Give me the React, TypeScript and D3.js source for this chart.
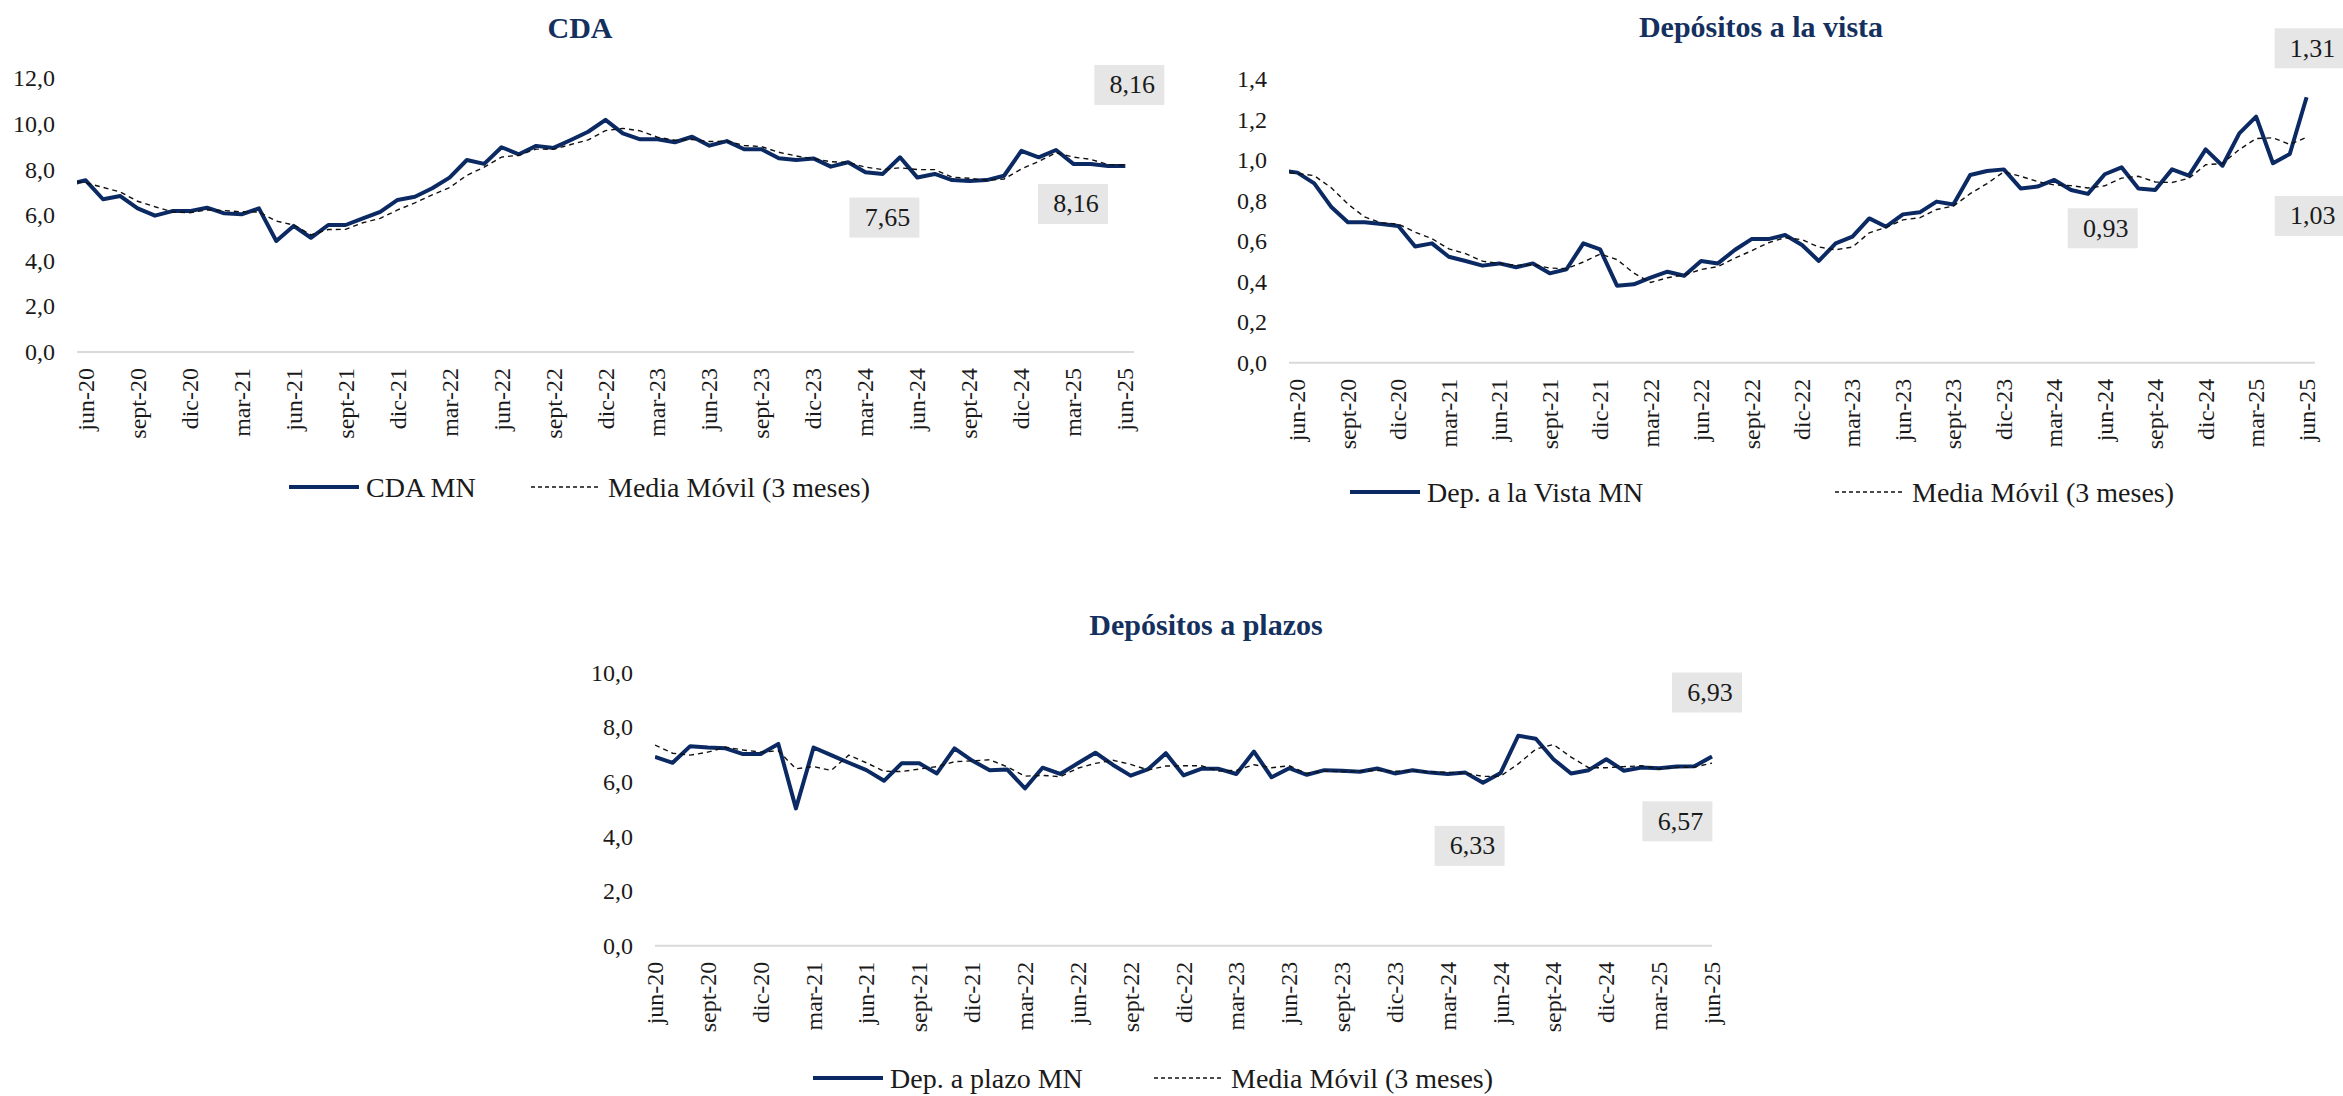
import React from 'react';
import * as d3 from 'd3';

// etiquetas del eje x (una cada 3 meses, jun-20 .. jun-25)
const tickLabels = [
  'jun-20', 'sept-20', 'dic-20', 'mar-21', 'jun-21', 'sept-21', 'dic-21',
  'mar-22', 'jun-22', 'sept-22', 'dic-22', 'mar-23', 'jun-23', 'sept-23',
  'dic-23', 'mar-24', 'jun-24', 'sept-24', 'dic-24', 'mar-25', 'jun-25',
];

// CDA MN (mensual, jun-20 .. jun-25)
const cdaMN = [
  7.53, 6.70, 6.84, 6.30, 5.98, 6.18, 6.18, 6.33, 6.08, 6.04,
  6.30, 4.87, 5.53, 5.01, 5.57, 5.57, 5.86, 6.15, 6.67, 6.81,
  7.18, 7.65, 8.42, 8.25, 8.98, 8.67, 9.04, 8.95, 9.30, 9.66,
  10.18, 9.59, 9.33, 9.33, 9.20, 9.44, 9.05, 9.25, 8.89, 8.89,
  8.50, 8.42, 8.49, 8.13, 8.32, 7.88, 7.81, 8.54, 7.65, 7.81,
  7.54, 7.50, 7.54, 7.73, 8.82, 8.54, 8.86, 8.25, 8.25, 8.16,
  8.16,
];
const cdaMA = [
  7.42, 7.22, 7.02, 6.61, 6.37, 6.15, 6.11, 6.23, 6.20, 6.15,
  6.14, 5.74, 5.57, 5.14, 5.37, 5.38, 5.67, 5.86, 6.23, 6.54,
  6.89, 7.21, 7.75, 8.11, 8.55, 8.63, 8.90, 8.89, 9.10, 9.30,
  9.71, 9.81, 9.70, 9.42, 9.29, 9.32, 9.23, 9.25, 9.06, 9.01,
  8.76, 8.60, 8.47, 8.35, 8.31, 8.11, 8.00, 8.08, 8.00, 8.00,
  7.67, 7.62, 7.53, 7.59, 8.03, 8.36, 8.74, 8.55, 8.45, 8.22,
  8.19,
];
// mes previo (may-20), visible solo como un tramo corto en el borde izquierdo
const cdaPrev = [7.35, 7.52];

// Depósitos a la vista MN
const vistaMN = [
  0.938, 0.885, 0.770, 0.693, 0.693, 0.684, 0.675, 0.573, 0.589, 0.523,
  0.502, 0.479, 0.490, 0.471, 0.490, 0.441, 0.461, 0.589, 0.559, 0.380,
  0.387, 0.420, 0.449, 0.429, 0.502, 0.490, 0.556, 0.610, 0.610, 0.630,
  0.581, 0.502, 0.589, 0.622, 0.712, 0.671, 0.732, 0.742, 0.795, 0.781,
  0.926, 0.946, 0.954, 0.860, 0.869, 0.902, 0.852, 0.833, 0.930, 0.964,
  0.860, 0.852, 0.954, 0.923, 1.053, 0.972, 1.132, 1.214, 0.984, 1.030,
  1.310,
];
const vistaMA = [
  0.934, 0.923, 0.864, 0.783, 0.719, 0.690, 0.684, 0.644, 0.612, 0.562,
  0.538, 0.501, 0.490, 0.480, 0.484, 0.467, 0.464, 0.497, 0.536, 0.509,
  0.442, 0.396, 0.419, 0.433, 0.460, 0.474, 0.516, 0.552, 0.592, 0.617,
  0.607, 0.571, 0.557, 0.571, 0.641, 0.668, 0.705, 0.715, 0.756, 0.773,
  0.834, 0.884, 0.942, 0.920, 0.894, 0.877, 0.874, 0.862, 0.873, 0.911,
  0.920, 0.892, 0.889, 0.910, 0.977, 0.983, 1.052, 1.106, 1.110, 1.077,
  1.112,
];
const vistaPrev = [0.948, 0.940];

// Depósitos a plazo MN
const plazoMN = [
  6.92, 6.70, 7.31, 7.26, 7.23, 7.02, 7.02, 7.39, 5.03, 7.26,
  6.98, 6.70, 6.43, 6.04, 6.68, 6.68, 6.31, 7.23, 6.78, 6.43,
  6.45, 5.76, 6.52, 6.29, 6.68, 7.07, 6.62, 6.23, 6.47, 7.05,
  6.24, 6.48, 6.48, 6.29, 7.11, 6.17, 6.50, 6.26, 6.43, 6.41,
  6.37, 6.49, 6.31, 6.43, 6.34, 6.29, 6.34, 5.97, 6.33, 7.69,
  7.58, 6.83, 6.31, 6.43, 6.83, 6.41, 6.53, 6.50, 6.56, 6.57,
  6.93,
];
const plazoMA = [
  7.35, 7.05, 6.98, 7.09, 7.27, 7.17, 7.09, 7.14, 6.48, 6.56,
  6.42, 6.98, 6.70, 6.39, 6.38, 6.47, 6.56, 6.74, 6.77, 6.81,
  6.55, 6.21, 6.24, 6.19, 6.50, 6.68, 6.79, 6.64, 6.44, 6.58,
  6.59, 6.59, 6.40, 6.42, 6.63, 6.52, 6.59, 6.31, 6.40, 6.37,
  6.40, 6.42, 6.39, 6.41, 6.36, 6.35, 6.32, 6.20, 6.21, 6.66,
  7.20, 7.37, 6.91, 6.52, 6.52, 6.56, 6.59, 6.48, 6.53, 6.54,
  6.69,
];

const cdaTicks = [0, 2, 4, 6, 8, 10, 12];
const vistaTicks = [0, 0.2, 0.4, 0.6, 0.8, 1.0, 1.2, 1.4];
const plazoTicks = [0, 2, 4, 6, 8, 10];

const NAVY = '#0b2a63';
const TITLE = '#14305e';
const FONT = "'Liberation Serif', 'Times New Roman', serif";

const comma = (f: string) => (v: number) => d3.format(f)(v).replace('.', ',');
const fmt1 = comma('.1f');
const fmt2 = comma('.2f');

type Note = { i: number; dx: number; dy: number };

type PanelProps = {
  id: string;
  title: string;
  titleX: number;
  titleY: number;
  mn: number[];
  ma: number[];
  prev?: number[];
  mnName: string;
  xRange: [number, number];
  pad: number;
  yRange: [number, number];
  yMax: number;
  ticks: number[];
  legendY: number;
  legendX: [number, number];
  notes: Note[];
};

function Panel(p: PanelProps) {
  const x = d3.scalePoint<number>()
    .domain(d3.range(p.mn.length))
    .range(p.xRange)
    .padding(p.pad);
  const y = d3.scaleLinear().domain([0, p.yMax]).range(p.yRange);
  const step = x.step();
  // posicion por indice (el -1 es el mes previo, recortado por el area)
  const xi = (i: number) => x(0)! + i * step;

  const mnPts: [number, number][] = p.mn.map((v, i) => [i, v]);
  const maPts: [number, number][] = p.ma.map((v, i) => [i, v]);
  if (p.prev) {
    mnPts.unshift([-1, p.prev[0]]);
    maPts.unshift([-1, p.prev[1]]);
  }
  const line = d3.line<[number, number]>().x(d => xi(d[0])).y(d => y(d[1]));

  const axisY = y(0);
  const left = p.xRange[0];
  const [solidX, dashX] = p.legendX;
  const clipId = 'clip-' + p.id;

  return (
    <g fontFamily={FONT}>
      <defs>
        <clipPath id={clipId}>
          <rect x={p.xRange[0]} y={0} width={p.xRange[1] - p.xRange[0] + 40} height={1096} />
        </clipPath>
      </defs>

      <text x={p.titleX} y={p.titleY} textAnchor="middle" fontSize={30}
        fontWeight="bold" fill={TITLE}>{p.title}</text>

      {/* eje y: solo etiquetas */}
      {p.ticks.map(t => (
        <text key={t} x={left - 22} y={y(t)} textAnchor="end"
          dominantBaseline="central" fontSize={24} fill="#1a1a1a">{fmt1(t)}</text>
      ))}

      <line x1={p.xRange[0]} x2={p.xRange[1]} y1={axisY} y2={axisY}
        stroke="#d9d9d9" strokeWidth={2} />

      {tickLabels.map((lab, k) => (
        <text key={lab} transform={`translate(${x(k * 3)},${axisY + 16}) rotate(-90)`}
          textAnchor="end" dominantBaseline="central" fontSize={24}
          fill="#1a1a1a">{lab}</text>
      ))}

      <g clipPath={`url(#${clipId})`}>
        <path d={line(mnPts) ?? ''} fill="none" stroke={NAVY} strokeWidth={4}
          strokeLinejoin="round" />
        <path d={line(maPts) ?? ''} fill="none" stroke="#111" strokeWidth={1.4}
          strokeDasharray="5,4" />
      </g>

      {p.notes.map(n => {
        const cx = x(n.i)! + n.dx;
        const cy = y(p.mn[n.i]) + n.dy;
        return (
          <g key={n.i + '-' + n.dy}>
            <rect x={cx - 35} y={cy - 20} width={70} height={40} fill="#e6e6e6" />
            <text x={cx + 3} y={cy} textAnchor="middle" dominantBaseline="central"
              fontSize={26} fill="#1a1a1a">{fmt2(p.mn[n.i])}</text>
          </g>
        );
      })}

      {/* leyenda */}
      <line x1={solidX} x2={solidX + 70} y1={p.legendY} y2={p.legendY}
        stroke={NAVY} strokeWidth={4} />
      <text x={solidX + 77} y={p.legendY} dominantBaseline="central" fontSize={28}
        fill="#1a1a1a">{p.mnName}</text>
      <line x1={dashX} x2={dashX + 70} y1={p.legendY} y2={p.legendY}
        stroke="#111" strokeWidth={1.4} strokeDasharray="4,3" />
      <text x={dashX + 77} y={p.legendY} dominantBaseline="central" fontSize={28}
        fill="#1a1a1a">Media Móvil (3 meses)</text>
    </g>
  );
}

export default function App() {
  return (
    <svg width={2343} height={1096}
      style={{ position: 'absolute', left: 0, top: 0, background: '#fff' }}>
      <Panel id="cda" title="CDA" titleX={580} titleY={38}
        mn={cdaMN} ma={cdaMA} prev={cdaPrev} mnName="CDA MN"
        xRange={[77, 1134]} pad={0.5} yRange={[352, 78.4]} yMax={12}
        ticks={cdaTicks} legendY={487} legendX={[289, 531]}
        notes={[{ i: 48, dx: -33, dy: 40 }, { i: 59, dx: -35, dy: 38 }, { i: 60, dx: 4, dy: -81 }]} />
      <Panel id="vista" title="Depósitos a la vista" titleX={1761} titleY={37}
        mn={vistaMN} ma={vistaMA} prev={vistaPrev} mnName="Dep. a la Vista MN"
        xRange={[1289, 2315]} pad={0.5} yRange={[362.7, 79]} yMax={1.4}
        ticks={vistaTicks} legendY={492} legendX={[1350, 1835]}
        notes={[{ i: 48, dx: -2, dy: 54 }, { i: 59, dx: 20, dy: 62 }, { i: 60, dx: 3, dy: -49 }]} />
      <Panel id="plazo" title="Depósitos a plazos" titleX={1206} titleY={635}
        mn={plazoMN} ma={plazoMA} mnName="Dep. a plazo MN"
        xRange={[655, 1712]} pad={0} yRange={[945.7, 672.7]} yMax={10}
        ticks={plazoTicks} legendY={1078} legendX={[813, 1154]}
        notes={[{ i: 48, dx: -31, dy: 73 }, { i: 59, dx: -17, dy: 55 }, { i: 60, dx: -5, dy: -64 }]} />
    </svg>
  );
}
